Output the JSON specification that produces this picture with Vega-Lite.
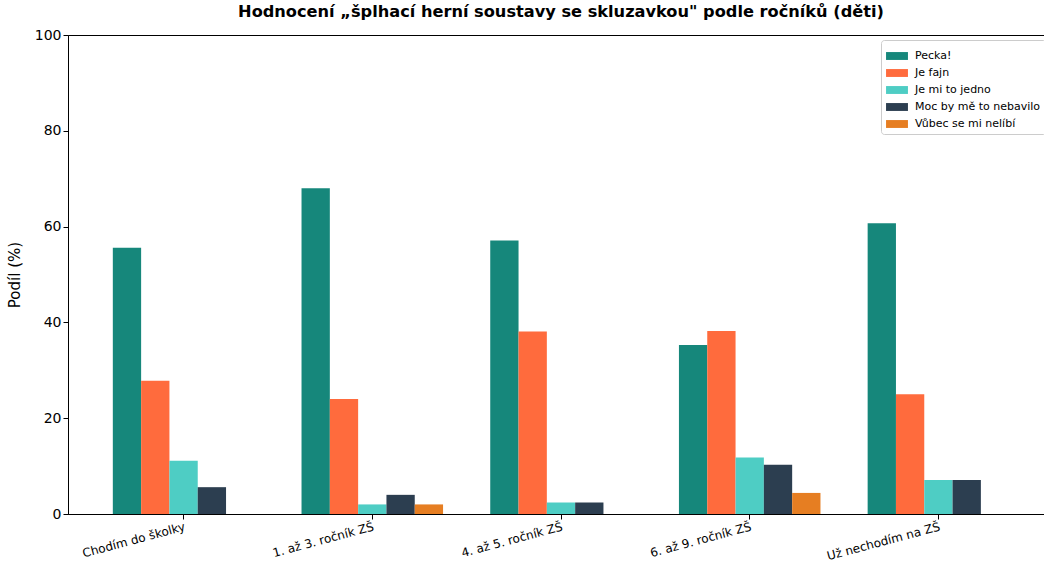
{
  "$schema": "https://vega.github.io/schema/vega-lite/v6.json",
  "autosize": {"type": "none"},
  "padding": {"left": 68, "top": 35, "right": 0, "bottom": 48},
  "width": 976,
  "height": 479,
  "background": "white",
  "config": {
    "font": "DejaVu Sans",
    "view": {"stroke": "#000", "strokeWidth": 1}
  },
  "title": {
    "text": "Hodnocení „šplhací herní soustavy se skluzavkou\" podle ročníků (děti)",
    "fontSize": 16.2,
    "fontWeight": "bold",
    "font": "DejaVu Sans",
    "color": "#000",
    "anchor": "middle",
    "dx": 5,
    "offset": 8
  },
  "data": {
    "values": [
      {"skupina": "Chodím do školky", "hodnoceni": "Pecka!", "podil": 55.6},
      {"skupina": "Chodím do školky", "hodnoceni": "Je fajn", "podil": 27.8},
      {"skupina": "Chodím do školky", "hodnoceni": "Je mi to jedno", "podil": 11.1},
      {"skupina": "Chodím do školky", "hodnoceni": "Moc by mě to nebavilo", "podil": 5.6},
      {"skupina": "Chodím do školky", "hodnoceni": "Vůbec se mi nelíbí", "podil": 0},
      {"skupina": "1. až 3. ročník ZŠ", "hodnoceni": "Pecka!", "podil": 68.0},
      {"skupina": "1. až 3. ročník ZŠ", "hodnoceni": "Je fajn", "podil": 24.0},
      {"skupina": "1. až 3. ročník ZŠ", "hodnoceni": "Je mi to jedno", "podil": 2.0},
      {"skupina": "1. až 3. ročník ZŠ", "hodnoceni": "Moc by mě to nebavilo", "podil": 4.0},
      {"skupina": "1. až 3. ročník ZŠ", "hodnoceni": "Vůbec se mi nelíbí", "podil": 2.0},
      {"skupina": "4. až 5. ročník ZŠ", "hodnoceni": "Pecka!", "podil": 57.1},
      {"skupina": "4. až 5. ročník ZŠ", "hodnoceni": "Je fajn", "podil": 38.1},
      {"skupina": "4. až 5. ročník ZŠ", "hodnoceni": "Je mi to jedno", "podil": 2.4},
      {"skupina": "4. až 5. ročník ZŠ", "hodnoceni": "Moc by mě to nebavilo", "podil": 2.4},
      {"skupina": "4. až 5. ročník ZŠ", "hodnoceni": "Vůbec se mi nelíbí", "podil": 0},
      {"skupina": "6. až 9. ročník ZŠ", "hodnoceni": "Pecka!", "podil": 35.3},
      {"skupina": "6. až 9. ročník ZŠ", "hodnoceni": "Je fajn", "podil": 38.2},
      {"skupina": "6. až 9. ročník ZŠ", "hodnoceni": "Je mi to jedno", "podil": 11.8},
      {"skupina": "6. až 9. ročník ZŠ", "hodnoceni": "Moc by mě to nebavilo", "podil": 10.3},
      {"skupina": "6. až 9. ročník ZŠ", "hodnoceni": "Vůbec se mi nelíbí", "podil": 4.4},
      {"skupina": "Už nechodím na ZŠ", "hodnoceni": "Pecka!", "podil": 60.7},
      {"skupina": "Už nechodím na ZŠ", "hodnoceni": "Je fajn", "podil": 25.0},
      {"skupina": "Už nechodím na ZŠ", "hodnoceni": "Je mi to jedno", "podil": 7.1},
      {"skupina": "Už nechodím na ZŠ", "hodnoceni": "Moc by mě to nebavilo", "podil": 7.1},
      {"skupina": "Už nechodím na ZŠ", "hodnoceni": "Vůbec se mi nelíbí", "podil": 0}
    ]
  },
  "mark": {"type": "bar"},
  "encoding": {
    "x": {
      "field": "skupina",
      "type": "nominal",
      "sort": null,
      "scale": {"range": [0, 986], "paddingInner": 0.25, "paddingOuter": 0.2375},
      "axis": {
        "title": null,
        "labelAngle": -15,
        "labelAlign": "right",
        "labelBaseline": "top",
        "labelFontSize": 12,
        "labelColor": "#000",
        "labelPadding": 2,
        "tickColor": "#000",
        "tickSize": 5,
        "domainColor": "#000",
        "grid": false
      }
    },
    "xOffset": {
      "field": "hodnoceni",
      "type": "nominal",
      "sort": ["Pecka!", "Je fajn", "Je mi to jedno", "Moc by mě to nebavilo", "Vůbec se mi nelíbí"],
      "scale": {"paddingInner": 0, "paddingOuter": 0}
    },
    "y": {
      "field": "podil",
      "type": "quantitative",
      "scale": {"domain": [0, 100], "nice": false},
      "axis": {
        "title": "Podíl (%)",
        "titleFontSize": 15,
        "titleFontWeight": "normal",
        "titleColor": "#000",
        "titlePadding": 12,
        "values": [0, 20, 40, 60, 80, 100],
        "labelFontSize": 14,
        "labelColor": "#000",
        "tickColor": "#000",
        "tickSize": 5,
        "domainColor": "#000",
        "grid": false
      }
    },
    "color": {
      "field": "hodnoceni",
      "type": "nominal",
      "sort": ["Pecka!", "Je fajn", "Je mi to jedno", "Moc by mě to nebavilo", "Vůbec se mi nelíbí"],
      "scale": {
        "domain": ["Pecka!", "Je fajn", "Je mi to jedno", "Moc by mě to nebavilo", "Vůbec se mi nelíbí"],
        "range": ["#16877B", "#FF6B3D", "#4ECDC4", "#2C3E50", "#E67E22"]
      },
      "legend": {
        "title": null,
        "orient": "none",
        "legendX": 813,
        "legendY": 5,
        "symbolType": "M-1,-0.36L1,-0.36L1,0.36L-1,0.36Z",
        "symbolSize": 480,
        "symbolStrokeWidth": 0,
        "labelFontSize": 11,
        "labelColor": "#000",
        "labelOffset": 7,
        "rowPadding": 1,
        "padding": 5,
        "strokeColor": "#cccccc",
        "fillColor": "white",
        "cornerRadius": 3
      }
    }
  }
}
